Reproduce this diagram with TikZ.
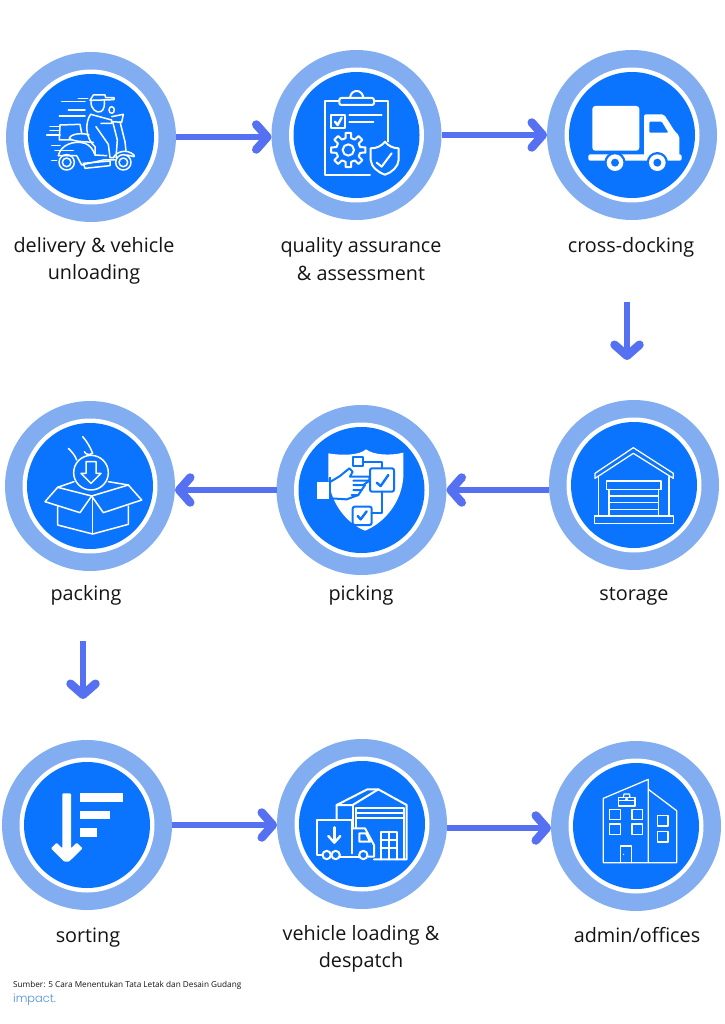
\documentclass[tikz,border=0pt]{standalone}
\usepackage{fontspec}
\setmainfont{Open Sans}
\newfontfamily\logofont{Poppins Light}
\usetikzlibrary{arrows.meta,calc}
\definecolor{ringc}{HTML}{82ADF0}
\definecolor{corec}{HTML}{0B74FE}
\definecolor{flowc}{HTML}{5570F0}
\definecolor{logoc}{HTML}{4A90D9}
\definecolor{textc}{HTML}{141414}
\tikzset{
  x=1pt,y=-1pt,
  stage/.style={circle,fill=ringc,minimum size=170pt,inner sep=0pt,outer sep=0pt},
  halo/.style={circle,fill=white,minimum size=135pt,inner sep=0pt},
  core/.style={circle,fill=corec,minimum size=126pt,inner sep=0pt},
  flow/.style={draw=flowc,line width=6.5pt,-{Straight Barb[length=11pt,width=25pt,round,line width=8.5pt]}},
  caption/.style={anchor=base,font=\fontsize{19.8}{24}\selectfont,text=textc,inner sep=0pt},
  ic/.style={draw=white,line width=1.5pt,line join=round,line cap=round},
  icthin/.style={draw=white,line width=1.25pt,line join=round,line cap=round},
  icb/.style={draw=corec,line width=2pt,line join=round,line cap=round},
  icw/.style={draw=white,line width=2pt,line join=round,line cap=round},
  crop/.style={shift={#1},scale=1/3},
}
\newcommand{\stagenode}[3]{%
  \node[stage] (#1) at (#2,#3) {};
  \node[halo] (#1h) at (#1) {};
  \node[core] (#1c) at (#1) {};}
\begin{document}
\begin{tikzpicture}
\useasboundingbox (0,0) rectangle (724,1024);
\fill[white] (0,0) rectangle (724,1024);
\stagenode{n1}{91}{137}
\stagenode{n2}{356.5}{135}
\stagenode{n3}{632}{135}
\stagenode{n4}{634}{485}
\stagenode{n5}{361.5}{490}
\stagenode{n6}{90}{486}
\stagenode{n7}{87}{825}
\stagenode{n8}{362}{824}
\stagenode{n9}{636}{826}
% connectors
\coordinate (a3s) at (627,302); \coordinate (a3e) at (627,360);
\coordinate (a6s) at (83,641); \coordinate (a6e) at (83,699);
\draw[flow] (n1.east) -- (n1.east -| n2.west);
\draw[flow] (n2.east) -- (n3.west);
\draw[flow] (a3s) -- (a3e);
\draw[flow] (n4.west |- n5.east) -- (n5.east);
\draw[flow] (n5.west) -- (n5.west -| n6.east);
\draw[flow] (a6s) -- (a6e);
\draw[flow] (n7.east) -- (n7.east -| n8.west);
\draw[flow] ([yshift=-4pt]n8.east) -- ([yshift=-4pt]n8.east -| n9.west);
% labels
\node[caption] (t1a) at (94,252) {delivery \& vehicle};
\node[caption] (t1b) at (94,279) {unloading};
\node[caption] (t2a) at (361,252) {quality assurance};
\node[caption] (t2b) at (361,280) {\& assessment};
\node[caption] (t3) at (631,252) {cross-docking};
\node[caption] (t4) at (634,600) {storage};
\node[caption] (t5) at (361,600) {picking};
\node[caption] (t6) at (86,600) {packing};
\node[caption] (t7) at (88,942) {sorting};
\node[caption] (t8a) at (361,940) {vehicle loading \&};
\node[caption] (t8b) at (361,967) {despatch};
\node[caption] (t9) at (637,942) {admin/offices};
\node[anchor=base west,inner sep=0pt,font=\fontsize{8.2}{10}\selectfont,text=textc] (src) at (13,987) {Sumber: 5 Cara Menentukan Tata Letak dan Desain Gudang};
\node[anchor=base west,inner sep=0pt,font=\logofont\fontsize{11.4}{14}\selectfont,text=logoc] (logo) at (13,1002) {impact.};
% --- scooter icon
\begin{scope}[crop={(40,85)}]
\foreach \xa/\xb/\yy in {115/143/40,65/135/50,85/135/75,58/135/93,30/60/125,30/55/137,20/60/150,35/60/182,45/100/197,35/50/227}
  \draw[ic] (\xa,\yy) -- (\xb,\yy);
\draw[ic] (150,46) -- (160,30) -- (195,30) -- (197,38) -- (222,38) -- (222,44) -- cycle;
\draw[ic] (153,50) .. controls (152,72) and (170,85) .. (182,80) .. controls (192,76) and (195,60) .. (193,44);
\draw[ic] (152,88) .. controls (135,110) and (135,160) .. (165,185) -- (165,210) -- (200,212);
\draw[ic] (152,88) -- (215,105) -- (215,115) -- (183,115);
\draw[ic] (168,125) -- (205,178) -- (210,218) -- (222,218);
\draw[ic] (60,120) -- (120,118) -- (125,145);
\draw[ic] (60,120) -- (58,165) -- (95,165);
\draw[ic] (88,160) .. controls (92,145) and (130,143) .. (147,150);
\draw[ic] (88,160) .. controls (100,170) and (130,170) .. (160,172);
\draw[ic] (55,212) .. controls (62,180) and (100,165) .. (135,175) .. controls (150,180) and (160,195) .. (165,210);
\draw[ic] (55,212) -- (110,212) -- (125,240) -- (190,225) -- (225,225);
\draw[ic] (130,235) -- (210,228) -- (210,242) -- (135,250) -- cycle;
\draw[ic] (218,110) -- (232,165) -- (228,218);
\draw[ic] (240,110) -- (255,170) -- (258,198);
\draw[ic] (220,218) .. controls (228,200) and (260,190) .. (282,210) -- (282,215) -- (262,210);
\draw[ic] (215,95) -- (250,88) -- (245,112) -- (218,110);
\draw[ic] (215,75) ellipse [x radius=8,y radius=10];
\foreach \cx in {80,250} {
  \draw[ic] (\cx,232) circle [radius=23];
  \draw[ic] (\cx,232) circle [radius=13];
}
\end{scope}
% --- quality icon
\begin{scope}[crop={(270,70)}]
\draw[icw] (205,92) -- (165,92) -- (165,315) -- (300,315);
\draw[icw] (315,92) -- (355,92) -- (355,215);
\draw[icw,rounded corners=2pt] (208,84) rectangle (312,105);
\draw[icw] (240,84) .. controls (242,56) and (278,56) .. (280,84);
\draw[icw] (183,135) rectangle (225,175);
\draw[icw,line width=2.4pt] (195,155) -- (203,165) -- (215,143);
\draw[icw] (238,135) -- (335,135);
\draw[icw] (238,155) -- (310,155);
\begin{scope}[shift={(235,240)}]
\draw[icw] (0,0) circle [radius=17];
\draw[icw] (-22.5:36)
  \foreach \a in {0,45,...,315} { -- (\a-13:37) -- (\a-9:52) -- (\a+9:52) -- (\a+13:37) -- (\a+22.5:36) } -- cycle;
\end{scope}
\draw[icw] (302,235) .. controls (320,235) and (335,228) .. (345,215) .. controls (355,228) and (370,235) .. (386,235) -- (386,270) .. controls (385,290) and (365,308) .. (345,314) .. controls (325,308) and (303,290) .. (302,270) -- cycle;
\draw[icw] (320,278) -- (335,290) -- (365,250);
\end{scope}
% --- truck icon
\begin{scope}[crop={(560,70)}]
\fill[white,rounded corners=3pt] (97,108) rectangle (238,242);
\fill[white,rounded corners=2pt] (252,133) -- (312,133) -- (345,185) -- (358,197) -- (358,260) -- (252,260) -- cycle;
\fill[white,rounded corners=2pt] (85,253) rectangle (365,272);
\fill[corec,rounded corners=1pt] (268,155) -- (305,155) -- (325,188) -- (268,188) -- cycle;
\foreach \cx in {165,292} {
  \fill[corec] (\cx,278) circle [radius=32];
  \fill[white] (\cx,278) circle [radius=25];
  \fill[corec] (\cx,278) circle [radius=12];
}
\end{scope}
% --- storage icon
\begin{scope}[crop={(270,410)}]
\draw[icthin] (975,190) -- (1090,113) -- (1210,190) -- (1210,205) -- (1090,130) -- (975,205) -- cycle;
\draw[icthin] (985,200) -- (985,318);
\draw[icthin] (1197,200) -- (1197,318);
\draw[icthin] (973,318) rectangle (1210,340);
\draw[icthin] (1010,213) rectangle (1173,238);
\draw[icthin] (1017,238) -- (1017,318);
\draw[icthin] (1165,238) -- (1165,318);
\foreach \yy in {258,278,298} \draw[icthin] (1017,\yy) -- (1165,\yy);
\end{scope}
% --- picking icon
\begin{scope}[crop={(310,440)}]
\fill[white] (55,40) .. controls (100,48) and (150,45) .. (168,28) .. controls (190,45) and (240,48) .. (280,38) -- (280,110) .. controls (275,190) and (220,250) .. (165,272) .. controls (110,250) and (60,190) .. (55,110) -- cycle;
\fill[white] (20,125) rectangle (57,177);
\draw[corec,line width=2pt] (60,110) -- (60,190);
\draw[icb] (128,52) rectangle (158,78);
\draw[icb] (158,65) -- (215,65) -- (215,85);
\draw[icb] (215,155) -- (215,220) -- (185,220);
\draw[icb,rounded corners=2pt] (180,85) rectangle (252,155);
\draw[icb,line width=2.4pt] (200,128) -- (212,138) -- (235,105);
\draw[icb,rounded corners=2pt] (128,200) rectangle (185,255);
\draw[icb,line width=2.4pt] (143,228) -- (152,238) -- (170,214);
\draw[icb] (62,125) -- (90,108) -- (118,85) -- (128,95) -- (120,110) -- (178,110) -- (178,122) -- (130,122);
\draw[icb] (178,122) -- (160,135) -- (130,135);
\draw[icb] (165,135) -- (155,150) -- (130,150);
\draw[icb] (155,150) -- (145,165) -- (125,165);
\draw[icb] (62,175) -- (110,178) -- (145,165);
\end{scope}
% --- packing icon
\begin{scope}[crop={(0,410)}]
\draw[ic] (273,188) circle [radius=52];
\draw[ic] (258,155) -- (288,155) -- (288,190) -- (303,190) -- (273,220) -- (243,190) -- (258,190) -- cycle;
\draw[ic] (248,80) .. controls (262,95) and (272,115) .. (278,130) .. controls (268,135) and (258,135) .. (253,125);
\draw[ic] (205,115) .. controls (215,125) and (225,135) .. (230,150);
\draw[ic] (173,232) -- (275,258) -- (385,225);
\draw[ic] (385,225) -- (425,270) -- (310,308) -- (275,258);
\draw[ic] (173,232) -- (135,275) -- (240,308) -- (275,258);
\draw[ic] (173,232) -- (222,215);
\draw[ic] (325,215) -- (385,225);
\draw[ic] (173,290) -- (173,345) -- (278,372) -- (385,343) -- (385,288);
\draw[ic] (278,258) -- (278,372);
\end{scope}
% --- sorting icon
\begin{scope}[crop={(20,760)}]
\fill[white,rounded corners=1pt] (93,265) -- (110,248) -- (127,265) -- (127,100) -- (153,100) -- (153,265) -- (170,248) -- (188,265) -- (147,305) -- (133,305) -- cycle;
\fill[white] (180,100) rectangle (308,126);
\fill[white] (180,152) rectangle (270,178);
\fill[white] (180,204) rectangle (232,230);
\end{scope}
% --- vehicle icon
\begin{scope}[crop={(280,750)}]
\draw[icw] (170,210) -- (170,165) -- (262,118) -- (295,118) -- (380,165) -- (380,328) -- (282,328);
\draw[icw] (170,165) -- (218,165) -- (295,118);
\draw[icw] (218,165) -- (218,235);
\draw[icw] (228,235) -- (228,175) -- (372,175) -- (372,328);
\foreach \yy in {190,205} \draw[icw] (228,\yy) -- (372,\yy);
\draw[icw] (302,328) -- (302,245) -- (350,245) -- (350,328);
\draw[icw] (326,245) -- (326,328);
\foreach \yy in {270,295} \draw[icw] (302,\yy) -- (350,\yy);
\draw[icw] (124,315) -- (110,315) -- (110,210) -- (215,210) -- (215,310);
\draw[icw,line width=2.4pt] (163,232) -- (163,275);
\draw[icw,line width=2.4pt] (145,258) -- (163,278) -- (181,258);
\draw[icw] (215,235) -- (255,235) -- (282,285) -- (282,320) -- (265,320);
\draw[icw] (238,250) -- (258,250) -- (270,275) -- (238,275) -- cycle;
\foreach \cx in {140,167,250} \draw[icw] (\cx,315) circle [radius=12.5];
\draw[icw] (180,322) -- (237,322);
\end{scope}
% --- admin icon
\begin{scope}[crop={(280,750)}]
\draw[icthin] (970,145) -- (1105,88) -- (1105,338) -- (970,338) -- cycle;
\draw[icthin] (1105,118) -- (1190,182) -- (1190,338) -- (1105,338);
\foreach \xa/\ya in {989/178,1056/178,989/222,1056/222,1132/197,1132/245}
  \draw[icthin] (\xa,\ya) rectangle ++(32,31);
\draw[icthin] (1022,338) -- (1022,288) -- (1054,288) -- (1054,338);
\fill[white] (1031,313) circle [radius=1.8];
\draw[icthin] (1015,142) rectangle (1065,168);
\draw[icthin] (1030,142) -- (1032,132) -- (1048,132) -- (1050,142);
\draw[icthin] (1015,152) -- (1065,152);
\draw[icthin] (1040,148) circle [radius=3];
\end{scope}
\end{tikzpicture}
\end{document}
